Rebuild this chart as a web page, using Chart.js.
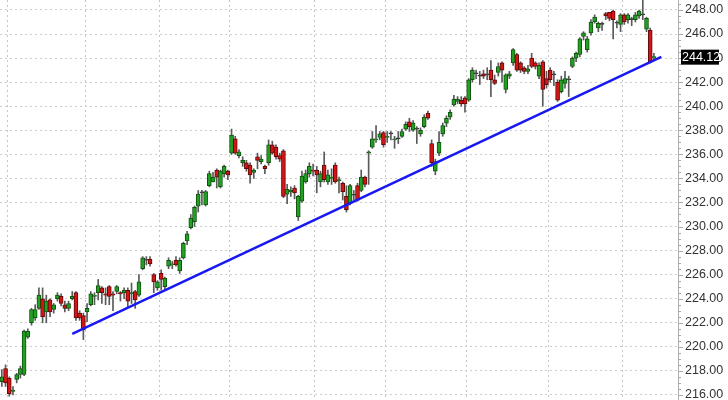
<!DOCTYPE html>
<html>
<head>
<meta charset="utf-8">
<script src="https://cdn.jsdelivr.net/npm/chart.js@4/dist/chart.umd.min.js"></script>
<style>
  body { margin: 0; background: #fff; }
  canvas { display: block; }
</style>
</head>
<body>
<canvas id="grafico" width="728" height="400"></canvas>
<script>
// ================================
// Velas diarias con línea de tendencia
// ================================

// Apertura de cada vela (orden cronológico)
const opens = [
  217.1, 218.2, 217.4, 216.3, 217.3, 217.7, 217.7, 220.8, 222.0, 222.4,
  223.2, 224.0, 222.9, 223.9, 223.1, 224.0, 224.2, 223.5, 223.2, 224.0,
  224.5, 222.8, 222.6, 222.9, 223.5, 224.2, 224.5, 224.9, 224.4, 225.0,
  224.4, 224.6, 224.5, 224.5, 224.7, 224.4, 224.6, 224.3, 226.5, 227.2,
  227.3, 226.0, 224.9, 226.1, 225.0, 226.7, 226.8, 227.2, 226.3, 227.4,
  228.8, 229.9, 230.4, 231.7, 232.8, 231.8, 233.4, 233.7, 234.7, 233.3,
  234.4, 234.6, 236.1, 237.3, 235.9, 235.3, 235.3, 235.1, 234.5, 235.8,
  235.4, 235.0, 235.3, 236.8, 236.6, 235.9, 236.3, 232.7, 232.9, 233.2,
  230.8, 232.1, 233.7, 234.4, 234.7, 234.7, 233.7, 235.1, 233.7, 234.0,
  235.1, 233.8, 233.6, 232.5, 231.9, 232.6, 233.4, 233.0, 234.1, 236.1,
  236.6, 237.2, 237.4, 237.8, 237.4, 237.7, 237.2, 237.3, 237.5, 238.1,
  238.7, 238.0, 238.1, 237.7, 238.3, 239.4, 236.9, 234.6, 236.1, 237.7,
  238.6, 239.1, 240.1, 240.4, 240.5, 240.7, 240.5, 242.2, 242.7, 242.5,
  242.7, 242.6, 243.0, 242.2, 242.8, 243.6, 241.4, 242.5, 243.6, 244.3,
  243.6, 243.2, 242.9, 244.0, 243.6, 242.5, 243.7, 242.3, 243.0, 242.6,
  242.0, 241.2, 241.9, 242.2, 243.3, 244.0, 244.3, 245.8, 244.7, 246.1,
  247.0, 246.5, 246.8, 247.7, 247.8, 247.9, 246.9, 246.8, 247.6, 247.2,
  247.2, 247.2, 247.5, 247.6, 246.4, 246.3, 244.0
];
// Máximo de cada vela
const highs = [
  218.1, 218.5, 217.5, 216.7, 217.8, 218.4, 221.4, 221.5, 223.2, 223.5,
  224.9, 224.9, 224.3, 224.0, 223.6, 224.5, 224.4, 223.8, 223.8, 224.6,
  224.6, 223.0, 222.8, 223.6, 224.6, 224.5, 225.6, 225.0, 224.9, 225.1,
  224.6, 225.1, 224.6, 224.9, 224.9, 225.3, 224.7, 226.0, 227.5, 227.5,
  227.5, 226.1, 225.5, 226.4, 225.8, 227.4, 227.1, 227.5, 227.4, 228.7,
  229.6, 231.0, 231.7, 233.0, 233.0, 233.0, 234.6, 234.5, 234.8, 234.7,
  235.1, 234.7, 238.1, 237.5, 236.4, 235.8, 235.5, 235.3, 234.8, 236.1,
  235.9, 235.1, 237.2, 237.1, 236.8, 236.1, 236.4, 233.5, 233.3, 233.4,
  232.6, 234.6, 234.7, 235.3, 235.2, 235.0, 234.6, 236.2, 234.7, 234.8,
  235.3, 234.1, 233.7, 233.4, 233.5, 233.0, 233.6, 234.7, 234.2, 236.3,
  237.9, 238.4, 237.9, 237.9, 237.9, 237.9, 237.5, 237.9, 238.1, 238.7,
  239.0, 238.8, 238.3, 238.2, 239.3, 239.6, 237.2, 235.6, 237.9, 238.6,
  239.2, 239.7, 240.9, 240.8, 240.8, 240.8, 242.3, 243.2, 243.0, 242.9,
  243.0, 243.2, 243.8, 242.6, 243.6, 243.7, 242.7, 242.9, 244.8, 244.4,
  243.7, 243.3, 243.4, 244.4, 243.7, 243.6, 243.8, 242.9, 243.2, 242.9,
  242.2, 242.5, 242.9, 242.5, 244.1, 244.5, 245.7, 246.2, 245.8, 247.2,
  247.6, 247.0, 247.0, 247.8, 247.8, 248.0, 247.1, 247.7, 247.7, 247.7,
  247.4, 247.8, 248.0, 249.0, 247.4, 246.5, 244.4
];
// Mínimo de cada vela
const lows = [
  216.7, 216.7, 215.9, 216.0, 217.0, 217.4, 217.6, 220.7, 221.8, 222.2,
  223.1, 222.0, 222.0, 222.5, 222.8, 223.8, 223.4, 222.9, 223.0, 223.9,
  222.2, 222.2, 220.6, 222.1, 223.4, 223.5, 223.9, 223.6, 223.5, 223.5,
  223.0, 224.4, 223.8, 224.0, 223.3, 223.6, 223.2, 224.2, 226.4, 226.8,
  226.7, 224.5, 224.7, 224.7, 224.7, 226.5, 226.5, 226.7, 226.1, 227.3,
  228.5, 229.8, 230.0, 231.2, 231.8, 231.7, 233.3, 233.7, 233.2, 233.2,
  234.1, 233.9, 236.0, 236.0, 235.7, 235.0, 234.6, 233.6, 234.0, 234.8,
  235.2, 234.4, 235.1, 236.0, 235.6, 235.4, 232.4, 231.9, 232.5, 232.3,
  230.5, 232.0, 233.6, 234.1, 234.2, 232.8, 233.3, 233.7, 233.5, 233.5,
  233.6, 232.8, 232.2, 231.2, 231.8, 232.2, 232.1, 232.9, 233.3, 233.5,
  236.5, 237.0, 237.2, 236.6, 237.0, 237.2, 236.5, 236.9, 237.4, 238.0,
  237.9, 237.9, 236.9, 237.5, 238.2, 238.9, 235.0, 234.3, 235.9, 237.5,
  238.3, 238.9, 240.0, 240.2, 240.0, 239.5, 240.4, 242.0, 242.3, 241.8,
  242.3, 242.2, 240.8, 241.8, 242.5, 242.0, 241.1, 242.3, 243.4, 242.9,
  242.8, 242.7, 242.7, 243.2, 243.1, 242.3, 240.0, 241.5, 242.0, 241.7,
  240.4, 241.1, 241.5, 240.8, 243.2, 243.7, 244.1, 245.5, 244.5, 245.9,
  246.9, 246.2, 246.3, 247.2, 247.1, 245.6, 246.5, 246.2, 246.8, 246.9,
  246.7, 247.0, 247.3, 247.2, 246.2, 243.6, 243.8
];
// Cierre de cada vela
const closes = [
  217.5, 217.0, 216.1, 216.4, 217.7, 218.2, 221.3, 221.3, 223.1, 223.1,
  224.3, 222.5, 223.8, 222.9, 223.5, 224.3, 223.6, 223.2, 223.6, 224.2,
  222.4, 222.4, 221.4, 223.2, 224.4, 224.3, 225.1, 224.5, 224.3, 224.2,
  224.3, 225.0, 224.4, 224.7, 223.8, 224.5, 223.9, 225.4, 227.4, 227.2,
  226.9, 225.4, 225.4, 225.6, 225.7, 227.2, 226.9, 226.8, 227.2, 228.6,
  229.4, 230.7, 231.6, 232.7, 232.8, 232.9, 234.4, 234.1, 234.1, 234.6,
  235.0, 234.3, 237.6, 236.1, 236.2, 235.5, 234.8, 234.3, 234.7, 235.5,
  235.6, 234.8, 236.8, 236.1, 235.8, 235.6, 232.5, 233.1, 233.0, 232.8,
  232.5, 234.2, 234.4, 235.0, 234.6, 234.3, 234.4, 233.9, 234.3, 234.1,
  233.7, 233.9, 232.9, 231.4, 233.4, 232.6, 232.2, 234.1, 233.5, 236.2,
  237.3, 237.3, 237.7, 236.8, 237.5, 237.7, 237.3, 237.3, 237.9, 238.5,
  238.3, 238.6, 238.1, 238.0, 239.1, 239.0, 235.3, 235.4, 237.0, 238.4,
  239.0, 239.5, 240.6, 240.6, 240.2, 240.2, 242.2, 243.0, 242.7, 242.5,
  242.5, 242.6, 242.2, 241.9, 243.3, 243.0, 242.6, 242.7, 244.7, 243.0,
  243.0, 242.9, 243.1, 243.3, 243.3, 243.4, 241.4, 241.8, 242.2, 242.6,
  240.5, 242.2, 242.3, 242.2, 244.0, 244.4, 245.6, 246.1, 245.6, 247.0,
  247.4, 246.9, 246.8, 247.5, 247.3, 247.2, 246.9, 247.6, 247.0, 247.6,
  247.2, 247.6, 247.9, 247.6, 247.3, 243.7, 244.12
];

const totalSlots = 183; // huecos del eje X (velas + margen a la derecha)
const monthStarts = [2, 23, 43, 62, 85, 104, 126, 148, 168]; // primera vela de cada mes
const yTicks = [216, 218, 220, 222, 224, 226, 228, 230, 232, 234, 236, 238, 240, 242, 244, 246, 248];
const trendIdx = [19, 178]; // extremos de la línea de tendencia
const trendVal = [221.07, 244.1];

// Datos para la librería
const labels = Array.from({ length: totalSlots }, (_, i) => i);
const mechas = opens.map((o, i) => [lows[i], highs[i]]);
const cuerpos = opens.map((o, i) => [o, closes[i]]);
const relleno = opens.map((o, i) => closes[i] > o ? "#22a022" : closes[i] < o ? "#d41515" : "#444");
const bordes = opens.map((o, i) => closes[i] > o ? "#115211" : closes[i] < o ? "#5e0a0a" : "#333");
const lineaTendencia = labels.map((l) => {
  const k = trendIdx.indexOf(l);
  return k >= 0 ? trendVal[k] : null;
});

// Marcas menores del eje y recuadro del último precio
const ejeDerecho = {
  id: "ejeDerecho",
  afterDraw(chart) {
    const { ctx, chartArea, scales } = chart;
    const y = scales.y;
    ctx.save();
    ctx.strokeStyle = "#a8a8a8";
    ctx.lineWidth = 1;
    for (let k = 0; k <= 66; k++) {
      const v = 216 + k * 0.5;
      const py = Math.round(y.getPixelForValue(v)) + 0.5;
      const len = k % 4 === 0 ? 5 : 3;
      ctx.beginPath();
      ctx.moveTo(chartArea.right, py);
      ctx.lineTo(chartArea.right + len, py);
      ctx.stroke();
    }
    const ultimo = closes[closes.length - 1];
    const py = y.getPixelForValue(ultimo);
    ctx.fillStyle = "#000";
    ctx.fillRect(chartArea.right + 3, py - 7, 38, 15);
    ctx.fillStyle = "#fff";
    ctx.font = "12.5px Arial";
    ctx.textBaseline = "middle";
    ctx.fillText(ultimo.toFixed(2), chartArea.right + 4, py + 1);
    ctx.restore();
  },
};

const ctx = document.getElementById("grafico").getContext("2d");
new Chart(ctx, {
  type: "bar",
  data: {
    labels: labels,
    datasets: [
      {
        type: "line",
        data: lineaTendencia,
        borderColor: "#1818f5",
        borderWidth: 2.5,
        pointRadius: 0,
        spanGaps: true,
        order: 0,
      },
      {
        data: cuerpos,
        backgroundColor: relleno,
        borderColor: bordes,
        borderWidth: 1,
        borderSkipped: false,
        barThickness: 4,
        minBarLength: 1,
        grouped: false,
        order: 1,
      },
      {
        data: mechas,
        backgroundColor: "#5a5a5a",
        barThickness: 1,
        grouped: false,
        order: 2,
      },
    ],
  },
  options: {
    responsive: false,
    animation: false,
    layout: { padding: 0 },
    plugins: {
      legend: { display: false },
      tooltip: { enabled: false },
    },
    scales: {
      x: {
        offset: true,
        grid: {
          offset: true,
          drawTicks: false,
          color: (c) => (monthStarts.includes(c.index) ? "#c6c6c6" : "rgba(0,0,0,0)"),
        },
        border: { display: false, dash: [2, 3] },
        ticks: { display: false, autoSkip: false },
        afterFit: (s) => {
          s.height = 0;
          s.paddingLeft = 0;
          s.paddingRight = 0;
        },
      },
      y: {
        position: "right",
        min: 215.58,
        max: 248.83,
        afterBuildTicks: (s) => {
          s.ticks = yTicks.map((v) => ({ value: v }));
        },
        afterFit: (s) => {
          s.width = 50;
          s.paddingTop = 0;
          s.paddingBottom = 0;
        },
        grid: { color: "#cdcdcd", drawTicks: false },
        border: { display: true, color: "#b0b0b0", dash: [2, 3] },
        ticks: {
          padding: 7,
          color: "#333",
          font: { family: "Arial", size: 12.5 },
          callback: (v) => Number(v).toFixed(2),
        },
      },
    },
  },
  plugins: [ejeDerecho],
});
</script>
</body>
</html>
